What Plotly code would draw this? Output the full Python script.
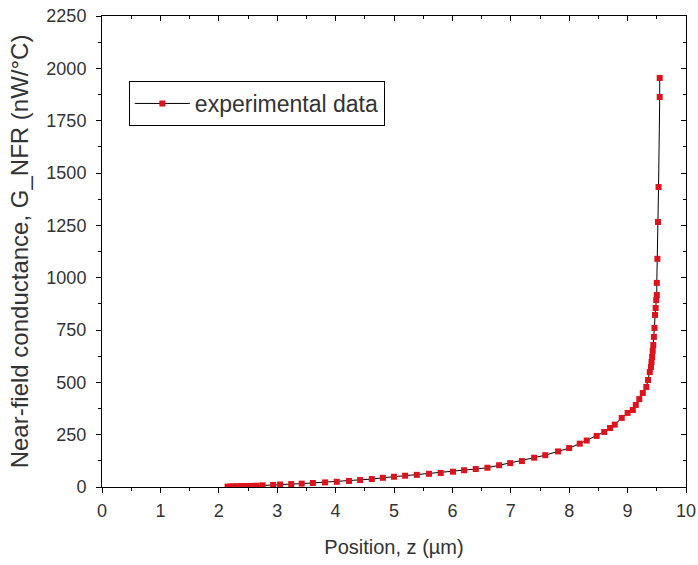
import plotly.graph_objects as go

z_um = [2.15, 2.20, 2.25, 2.30, 2.35, 2.40, 2.45, 2.50, 2.55, 2.60, 2.65, 2.75, 2.93, 3.05,
        3.24, 3.42, 3.61, 3.82, 4.02, 4.23, 4.42, 4.62, 4.81, 5.00, 5.19, 5.39, 5.60, 5.80,
        6.01, 6.20, 6.40, 6.60, 6.80, 6.99, 7.19, 7.40, 7.59, 7.81, 8.00, 8.18, 8.30, 8.47,
        8.60, 8.70, 8.78, 8.90, 9.00, 9.09, 9.14, 9.20, 9.26, 9.32, 9.35, 9.38, 9.40, 9.41,
        9.42, 9.43, 9.44, 9.45, 9.46, 9.47, 9.48, 9.49, 9.50, 9.50, 9.51, 9.52, 9.53, 9.55, 9.55]
g_nfr = [2, 2, 3, 3, 3, 4, 4, 4, 5, 5, 6, 8, 10, 12,
         14, 16, 19, 22, 25, 29, 33, 38, 44, 49, 54, 58, 63, 67,
         73, 80, 86, 92, 104, 114, 124, 140, 152, 170, 186, 207, 222, 244,
         263, 282, 298, 330, 354, 368, 392, 420, 449, 478, 511, 549, 573, 597,
         621, 650, 678, 717, 760, 822, 855, 893, 917, 975, 1090, 1266, 1433, 1863, 1954]

x_ticks = list(range(0, 11))
y_ticks = list(range(0, 2251, 250))

font_family = "Liberation Sans, Arial, sans-serif"
txt_color = "#333333"

fig = go.Figure()
fig.add_trace(go.Scatter(
    x=z_um, y=g_nfr, mode="lines+markers", name="experimental data",
    line=dict(color="black", width=1),
    marker=dict(symbol="square", size=6, color="#dc121c", line=dict(width=0)),
))
fig.add_trace(go.Scatter(x=[None], y=[None], xaxis="x2", yaxis="y2",
                         showlegend=False, hoverinfo="skip"))

axis_common = dict(showgrid=False, zeroline=False, showline=True, linecolor="black",
                   linewidth=1, ticklen=5, tickwidth=1, tickcolor="black", automargin=False)

fig.update_layout(
    width=698, height=565,
    margin=dict(l=102, r=12, t=16, b=78),
    paper_bgcolor="white", plot_bgcolor="white",
    font=dict(family=font_family, size=18, color=txt_color),
    showlegend=True,
    legend=dict(x=0.046, y=0.862, xanchor="left", yanchor="top",
                bordercolor="black", borderwidth=1, bgcolor="white",
                font=dict(size=23, color=txt_color), itemwidth=55,
                tracegroupgap=0),
    xaxis=dict(range=[0, 10], tickvals=x_ticks, ticks="outside",
               minor=dict(dtick=0.5, ticks="outside", ticklen=3, tickcolor="black"),
               title=dict(text="Position, z (µm)", font=dict(size=20), standoff=20),
               tickfont=dict(size=18), ticklabelstandoff=2, **axis_common),
    yaxis=dict(range=[0, 2250], tickvals=y_ticks, ticks="outside",
               minor=dict(dtick=125, ticks="outside", ticklen=3, tickcolor="black"),
               title=dict(text="Near-field conductance, G_NFR (nW/°C)", font=dict(size=24), standoff=10),
               tickfont=dict(size=18), ticklabelstandoff=6, **axis_common),
    xaxis2=dict(range=[0, 10], overlaying="x", side="top", anchor="y2",
                tickvals=x_ticks, ticks="inside", showticklabels=False,
                minor=dict(dtick=0.5, ticks="inside", ticklen=3, tickcolor="black"),
                **axis_common),
    yaxis2=dict(range=[0, 2250], overlaying="y", side="right", anchor="x2",
                tickvals=y_ticks, ticks="inside", showticklabels=False,
                minor=dict(dtick=125, ticks="inside", ticklen=3, tickcolor="black"),
                **axis_common),
)

fig.write_html("out.html")
